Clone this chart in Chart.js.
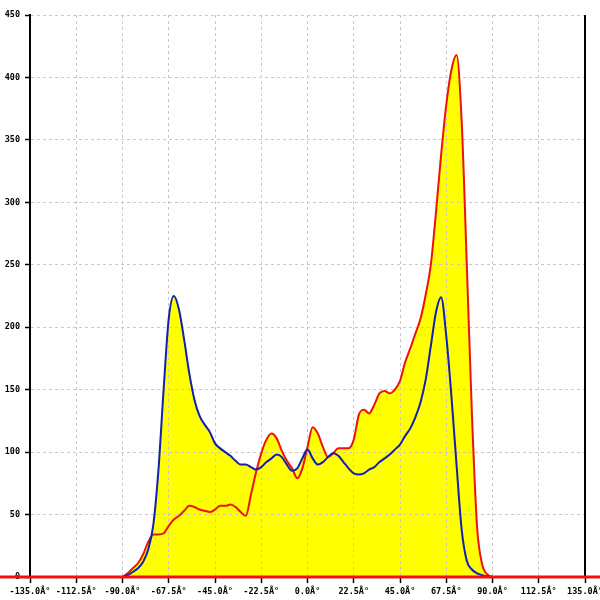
<!DOCTYPE html>
<html><head><meta charset="utf-8">
<style>html,body{margin:0;padding:0;background:#fff;}canvas{display:block;}</style>
<script src="https://cdn.jsdelivr.net/npm/chart.js@4/dist/chart.umd.min.js"></script>
</head><body>
<canvas id="c" width="600" height="600"></canvas>
<script>
const angles = [-90,-87.5,-85,-82.5,-80,-77.5,-75,-72.5,-70,-67.5,-65,-62.5,-60,-57.5,-55,-52.5,-50,-47.5,-45,-42.5,-40,-37.5,-35,-32.5,-30,-27.5,-25,-22.5,-20,-17.5,-15,-12.5,-10,-7.5,-5,-2.5,0,2.5,5,7.5,10,12.5,15,17.5,20,22.5,25,27.5,30,32.5,35,37.5,40,42.5,45,47.5,50,52.5,55,57.5,60,62.5,65,67.5,70,72.5,75,77.5,80,82.5,85,87.5,90];
const blueValues = [0,1.5,4,7,12,22,42,86,150,207,225,214,190,163,142,129,122,116,107,103,100,97,93,90,90,88,86,88,92,95,98,96,90,85,87,95,102,95,90,92,96,99,97,92,87,83,82,83,86,88,92,95,98,102,106,113,119,128,140,158,185,212,224,193,145,90,38,13,6,3,1.5,0.5,0];
const redValues = [0,3,7,11,18,28,34,34,35,41,46,49,53,57,56,54,53,52,54,57,57,58,56,52,49,66,84,99,110,115,111,101,93,87,79,87,104,120,115,104,96,99,103,103,103,110,130,134,131,138,147,149,147,150,157,172,183,195,207,226,250,292,338,378,406,418,365,250,130,40,10,2,0];
const xTickValues = [-135,-112.5,-90,-67.5,-45,-22.5,0,22.5,45,67.5,90,112.5,135];
const yTickValues = [0,50,100,150,200,250,300,350,400,450];

const FONT = {family: 'DejaVu Sans Mono', size: 8.5, weight: 'bold'};

const extras = {
  id: 'extras',
  afterDatasetsDraw(chart) {
    const ctx = chart.ctx, a = chart.chartArea;
    const y0 = chart.scales.y.getPixelForValue(0);
    ctx.save();
    ctx.strokeStyle = '#000';
    ctx.lineWidth = 2;
    ctx.beginPath(); ctx.moveTo(a.right, a.top); ctx.lineTo(a.right, y0); ctx.stroke();
    ctx.strokeStyle = '#ee1111';
    ctx.lineWidth = 3;
    ctx.beginPath(); ctx.moveTo(0, y0); ctx.lineTo(chart.width, y0); ctx.stroke();
    ctx.restore();
  }
};

new Chart(document.getElementById('c'), {
  type: 'line',
  data: {
    datasets: [
      {data: angles.map((a,i)=>({x:a, y:blueValues[i]})), borderColor: '#1020b0', borderWidth: 2, backgroundColor: '#ffff00', fill: 'origin', pointRadius: 0, cubicInterpolationMode: 'monotone'},
      {data: angles.map((a,i)=>({x:a, y:redValues[i]})), borderColor: '#ee1111', borderWidth: 2, backgroundColor: '#ffff00', fill: 'origin', pointRadius: 0, cubicInterpolationMode: 'monotone'}
    ]
  },
  options: {
    responsive: false,
    animation: false,
    devicePixelRatio: 1,
    layout: {padding: {top: 15, right: 15, left: 0, bottom: 0}},
    plugins: {legend: {display: false}, tooltip: {enabled: false}, filler: {drawTime: 'beforeDraw'}},
    scales: {
      x: {
        type: 'linear', min: -135, max: 135,
        afterBuildTicks: s => { s.ticks = xTickValues.map(v => ({value: v})); },
        afterFit: s => { s.height = 23; s.paddingLeft = 0; s.paddingRight = 0; },
        ticks: {font: FONT, color: '#000', padding: 4, maxRotation: 0, autoSkip: false,
          callback: v => Number(v).toFixed(1) + 'Â°'},
        grid: {color: '#c8c8c8', lineWidth: 1, tickLength: 6, tickColor: '#000', tickWidth: 1.5},
        border: {display: false, dash: [3, 3]}
      },
      y: {
        min: 0, max: 450,
        afterBuildTicks: s => { s.ticks = yTickValues.map(v => ({value: v})); },
        afterFit: s => { s.width = 30; },
        ticks: {font: FONT, color: '#000', padding: 5, callback: v => String(v)},
        grid: {color: c => c.tick && c.tick.value === 0 ? 'rgba(0,0,0,0)' : '#c8c8c8', lineWidth: 1, tickLength: 5, tickColor: '#000', tickWidth: 1.5},
        border: {display: true, color: '#000', width: 2, dash: [3, 3]}
      }
    }
  },
  plugins: [extras]
});
</script>
</body></html>
